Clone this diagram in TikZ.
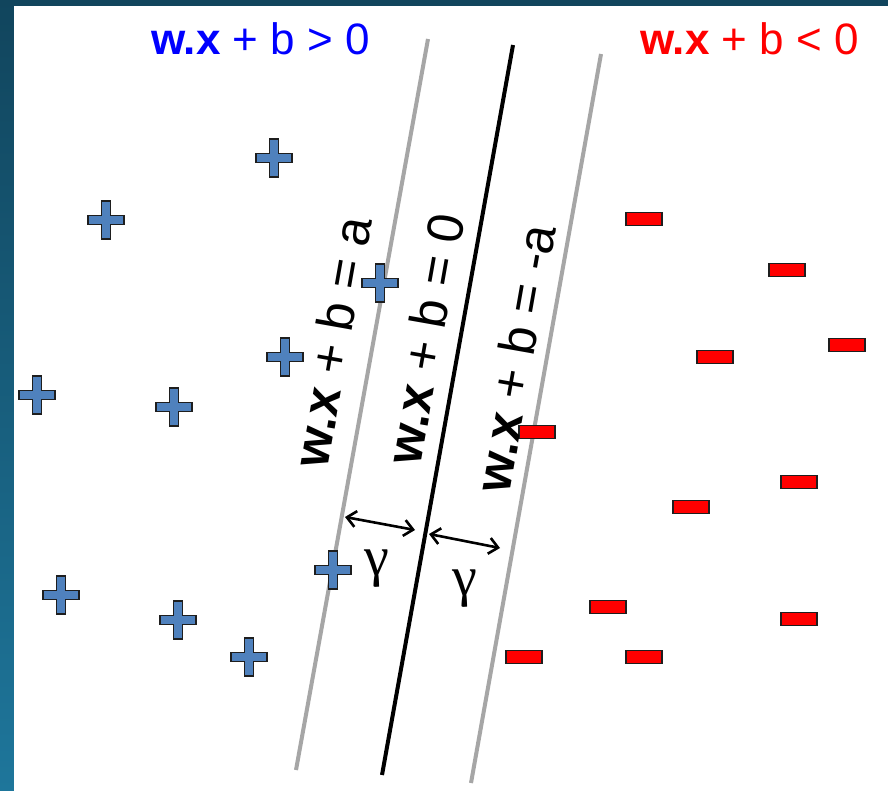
\documentclass[tikz,border=0pt]{standalone}
\usepackage{fontspec}
\setmainfont{Liberation Sans}
\newfontfamily\serifgreek{Liberation Serif}
\usetikzlibrary{arrows.meta}
\definecolor{bgtop}{RGB}{17,69,93}
\definecolor{bgbot}{RGB}{30,118,155}
\definecolor{plusblue}{RGB}{79,129,189}
\definecolor{sepgray}{RGB}{166,166,166}
\definecolor{edgedark}{RGB}{30,30,30}
\begin{document}
\begin{tikzpicture}[x=1pt,y=-1pt,
  plusmark/.pic={\filldraw[fill=plusblue,draw=edgedark,line width=1.3pt]
     (-4.4,-19) -- (4.4,-19) -- (4.4,-4.8) -- (18,-4.8) -- (18,4.8) -- (4.4,4.8)
     -- (4.4,19) -- (-4.4,19) -- (-4.4,4.8) -- (-18,4.8) -- (-18,-4.8) -- (-4.4,-4.8) -- cycle;},
  minusbox/.style={rectangle,draw=edgedark,fill=red,line width=1.3pt,
     minimum width=36pt,minimum height=12.5pt,inner sep=0pt},
  eqlabel/.style={rotate=80,inner sep=0pt,font=\fontsize{51}{51}\selectfont},
  titlelabel/.style={inner sep=0pt,font=\fontsize{44}{44}\selectfont},
  gammalabel/.style={inner sep=0pt,font=\serifgreek\fontsize{56}{56}\selectfont},
  margin/.style={line width=2.6pt,<->,>={Straight Barb[length=9pt,width=16pt,line width=2.6pt]}},
  sepline/.style={line width=4pt,draw=sepgray},
  mainline/.style={line width=4pt,draw=black}]
\useasboundingbox (0,0) rectangle (888,791);
\shade[top color=bgtop,bottom color=bgbot] (0,0) rectangle (888,791);
\fill[white] (14,6) rectangle (888,791);

% separating lines
\coordinate (lt) at (428,39);  \coordinate (lb) at (296,770);
\coordinate (mt) at (513,45);  \coordinate (mb) at (382,775);
\coordinate (rt) at (601,54);  \coordinate (rb) at (471,783);
\draw[sepline] (lt) -- (lb);
\draw[mainline] (mt) -- (mb);
\draw[sepline] (rt) -- (rb);

% titles
\node[titlelabel,text=blue,anchor=base west] (tpos) at (151,55) {\textbf{w.x} + b > 0};
\node[titlelabel,text=red,anchor=base east] (tneg) at (859,55) {\textbf{w.x} + b < 0};

% plus points
\foreach \n/\px/\py in {p1/274/158,p2/106/220,p3/380/283,p4/285/357,p5/37/395,
    p6/174/407,p7/333/570,p8/61/595,p9/178/620,p10/249/657}
  \pic (\n) at (\px,\py) {plusmark};

% minus points
\foreach \n/\px/\py in {m1/644/219,m2/787/270,m3/847/345,m4/715/357,m5/537/432,
    m6/799/482,m7/691/507,m8/608/607,m9/799/619,m10/524/657,m11/644/657}
  \node[minusbox] (\n) at (\px,\py) {};

% equation labels
\node[eqlabel] (eqa) at (332,342) {\textbf{w.x} + b = a};
\node[eqlabel] (eq0) at (425,339) {\textbf{w.x} + b = 0};
\node[eqlabel] (eqm) at (515,358) {\textbf{w.x} + b = -a};

% margins
\coordinate (a1) at (345,517); \coordinate (a2) at (415,530);
\coordinate (b1) at (429,534); \coordinate (b2) at (500,548);
\draw[margin] (a1) -- (a2);
\draw[margin] (b1) -- (b2);
\node[gammalabel] (g1) at (377,569) {γ};
\node[gammalabel] (g2) at (465,589) {γ};
\end{tikzpicture}
\end{document}
